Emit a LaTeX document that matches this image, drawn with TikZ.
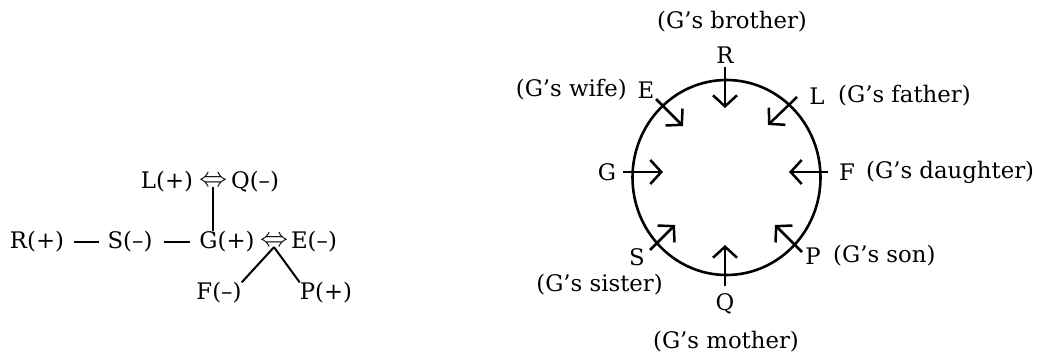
\documentclass[tikz,border=0pt]{standalone}
\usepackage{fontspec}
\setmainfont{DejaVu Serif}
\usetikzlibrary{arrows.meta}
\begin{document}
\begin{tikzpicture}[x=1pt,y=-1pt,
  lbl/.style={inner sep=0pt,font=\fontsize{22.8}{26}\selectfont},
  rel/.style={line width=2pt},
  arr/.style={line width=2.5pt,-{Straight Barb[length=11pt,width=24pt,line width=2.5pt]}},
  eqv/.style={inner sep=0pt,font=\fontsize{20}{24}\selectfont}]
\useasboundingbox (0,0) rectangle (1044,356);
% ---------- left tree ----------
\node[lbl] (L) at (167,182) {L(+)};
\node[eqv] (eqa) at (213,182) {\scalebox{1.35}[1.3]{$\Leftrightarrow$}};
\node[lbl] (Q) at (255,182) {Q(–)};
\node[lbl] (R) at (37,242) {R(+)};
\node[lbl] (S) at (130,242) {S(–)};
\node[lbl] (G) at (227,242) {G(+)};
\node[eqv] (eqb) at (274,242) {\scalebox{1.35}[1.3]{$\Leftrightarrow$}};
\node[lbl] (E) at (314,242) {E(–)};
\node[lbl] (F) at (219,293) {F(–)};
\node[lbl] (P) at (326,293) {P(+)};
\draw[rel] (eqa.south) -- (eqa.south |- G.north);
\draw[rel,shorten <=10pt,shorten >=8pt] (R.east) -- (S.west);
\draw[rel,shorten <=11pt,shorten >=9pt] (S.east) -- (G.west);
\draw[rel] (eqb.south) -- (F.north east);
\draw[rel] (eqb.south) -- (P.north west);
% ---------- right circle ----------
\coordinate (c) at (726.5,177.5);
\draw[line width=2.6pt] (c) ellipse [x radius=94pt, y radius=97.5pt];
\node[lbl] (rb) at (732,22) {(G’s brother)};
\node[lbl] (rR) at (725,55) {R};
\node[lbl] (rE) at (646,90) {E};
\node[lbl,anchor=east] (wife) at (627,90) {(G’s wife)};
\node[lbl] (rL) at (817,96) {L};
\node[lbl,anchor=west] (fath) at (838,96) {(G’s father)};
\node[lbl] (rG) at (607,172) {G};
\node[lbl] (rF) at (847,172) {F};
\node[lbl,anchor=west] (daug) at (866,172) {(G’s daughter)};
\node[lbl] (rS) at (637,257) {S};
\node[lbl,anchor=east] (sist) at (663,285) {(G’s sister)};
\node[lbl] (rP) at (813,256) {P};
\node[lbl,anchor=west] (son) at (833,256) {(G’s son)};
\node[lbl] (rQ) at (725,304) {Q};
\node[lbl] (moth) at (726,342) {(G’s mother)};
% arrow ends
\coordinate (tR) at (725,67);  \coordinate (hR) at (725,108);
\coordinate (tG) at (623,172); \coordinate (hG) at (663,172);
\coordinate (tF) at (828,172); \coordinate (hF) at (789,172);
\coordinate (tL) at (797,97);  \coordinate (hL) at (768,125);
\coordinate (tE) at (656,99);  \coordinate (hE) at (683,126);
\coordinate (tS) at (650,250); \coordinate (hS) at (675,225);
\coordinate (tP) at (802,252); \coordinate (hP) at (775,225);
\coordinate (tQ) at (725,286); \coordinate (hQ) at (725,245);
\foreach \a in {R,G,F,L,E,S,P,Q} \draw[arr] (t\a) -- (h\a);
\end{tikzpicture}
\end{document}
